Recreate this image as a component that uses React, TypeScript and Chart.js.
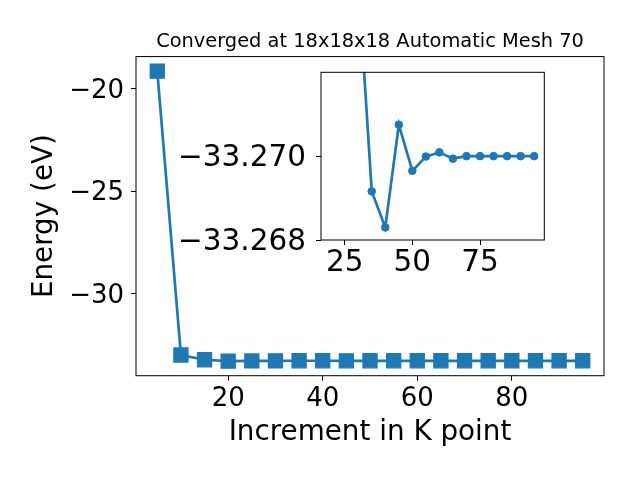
import React, { useEffect, useRef } from "react";
import { Chart, registerables } from "chart.js";

Chart.register(...registerables);

// ---- data ----
const kPoints = [5, 10, 15, 20, 25, 30, 35, 40, 45, 50, 55, 60, 65, 70, 75, 80, 85, 90, 95];
const energies = [
  -19.14, -32.99, -33.22, -33.29, -33.278, -33.2742, -33.26916, -33.2683, -33.27075,
  -33.26965, -33.26999, -33.27009, -33.26994, -33.27, -33.27, -33.27, -33.27, -33.27, -33.27,
];
const mainXTicks = [20, 40, 60, 80];
const mainYTicks = [-30, -25, -20];
const insetStartIndex = 3; // inset shows k >= 20
const insetXTicks = [25, 50, 75];
const insetYTicks = [-33.27, -33.268];
const insetYLimits = [-33.272, -33.268];

const titleText = "Converged at 18x18x18 Automatic Mesh 70";
const xLabel = "Increment in K point";
const yLabel = "Energy (eV)";

const BLUE = "#1f77b4";
const FONT = "'DejaVu Sans', sans-serif";

const fmt = (v: number, d: number) => (v < 0 ? "\u2212" : "") + Math.abs(v).toFixed(d);

const framePlugin = (fillWhite: boolean) => ({
  id: "frame" + (fillWhite ? "W" : ""),
  beforeDraw(chart: any) {
    if (!fillWhite) return;
    const { left, top, right, bottom } = chart.chartArea;
    const ctx = chart.ctx;
    ctx.save();
    ctx.fillStyle = "#fff";
    ctx.fillRect(left, top, right - left, bottom - top);
    ctx.restore();
  },
  afterDraw(chart: any) {
    const { left, top, right, bottom } = chart.chartArea;
    const ctx = chart.ctx;
    ctx.save();
    ctx.strokeStyle = "#000";
    ctx.lineWidth = 1;
    ctx.strokeRect(left, top, right - left, bottom - top);
    ctx.restore();
  },
});

export default function App() {
  const mainRef = useRef<HTMLCanvasElement>(null);
  const insetRef = useRef<HTMLCanvasElement>(null);

  useEffect(() => {
    const dMin = Math.min(...energies);
    const dMax = Math.max(...energies);
    const yMargin = (dMax - dMin) * 0.05;
    const xMargin = (kPoints[kPoints.length - 1] - kPoints[0]) * 0.05;

    const main = new Chart(mainRef.current!, {
      type: "line",
      data: {
        datasets: [
          {
            data: kPoints.map((k, i) => ({ x: k, y: energies[i] })),
            borderColor: BLUE,
            backgroundColor: BLUE,
            borderWidth: 2.7,
            pointStyle: "rect",
            pointRadius: 10,
            pointBorderWidth: 1.2,
            pointBackgroundColor: BLUE,
            pointBorderColor: BLUE,
            tension: 0,
          },
        ],
      },
      options: {
        animation: false,
        responsive: false,
        devicePixelRatio: 1,
        layout: { padding: { left: 0, right: 36, top: 0, bottom: 0 } },
        plugins: {
          legend: { display: false },
          tooltip: { enabled: false },
          title: {
            display: true,
            text: titleText,
            fullSize: false,
            color: "#000",
            font: { family: FONT, size: 19.4, weight: "normal" },
            padding: { top: 30, bottom: 3.3 },
          },
        },
        scales: {
          x: {
            type: "linear",
            min: kPoints[0] - xMargin,
            max: kPoints[kPoints.length - 1] + xMargin,
            afterBuildTicks: (s: any) => {
              s.ticks = mainXTicks.map((v) => ({ value: v }));
            },
            afterFit: (s: any) => {
              s.height = 104.3;
            },
            grid: { display: true, drawOnChartArea: false, drawTicks: true, tickLength: 5, color: "#000", tickColor: "#000" },
            border: { display: false },
            ticks: {
              color: "#000",
              font: { family: FONT, size: 26 },
              padding: 3,
              maxRotation: 0,
              autoSkip: false,
              callback: (v: any) => fmt(Number(v), 0),
            },
            title: {
              display: true,
              text: xLabel,
              color: "#000",
              font: { family: FONT, size: 27.8 },
              padding: { top: 0, bottom: 31 },
            },
          },
          y: {
            type: "linear",
            min: dMin - yMargin,
            max: dMax + yMargin,
            afterBuildTicks: (s: any) => {
              s.ticks = mainYTicks.map((v) => ({ value: v }));
            },
            afterFit: (s: any) => {
              s.width = 136;
            },
            grid: { display: true, drawOnChartArea: false, drawTicks: true, tickLength: 5, color: "#000", tickColor: "#000" },
            border: { display: false },
            ticks: {
              color: "#000",
              font: { family: FONT, size: 26 },
              padding: 7,
              labelOffset: 2.5,
              autoSkip: false,
              callback: (v: any) => fmt(Number(v), 0),
            },
            title: {
              display: true,
              text: yLabel,
              color: "#000",
              font: { family: FONT, size: 27.8 },
              padding: { top: 28, bottom: 0 },
            },
          },
        },
      },
      plugins: [framePlugin(false)],
    } as any);

    const insetK = kPoints.slice(insetStartIndex);
    const insetE = energies.slice(insetStartIndex);
    const ixMargin = (insetK[insetK.length - 1] - insetK[0]) * 0.05;

    const inset = new Chart(insetRef.current!, {
      type: "line",
      data: {
        datasets: [
          {
            data: insetK.map((k, i) => ({ x: k, y: insetE[i] })),
            borderColor: BLUE,
            backgroundColor: BLUE,
            borderWidth: 2.7,
            pointStyle: "circle",
            pointRadius: 3.8,
            pointBorderWidth: 1,
            pointBackgroundColor: BLUE,
            pointBorderColor: BLUE,
            tension: 0,
            clip: 0,
          },
        ],
      },
      options: {
        animation: false,
        responsive: false,
        devicePixelRatio: 1,
        layout: { padding: { left: 0, right: 95.7, top: 72.3, bottom: 0 } },
        plugins: {
          legend: { display: false },
          tooltip: { enabled: false },
          title: { display: false },
        },
        scales: {
          x: {
            type: "linear",
            min: insetK[0] - ixMargin,
            max: insetK[insetK.length - 1] + ixMargin,
            afterBuildTicks: (s: any) => {
              s.ticks = insetXTicks.map((v) => ({ value: v }));
            },
            afterFit: (s: any) => {
              s.height = 240;
            },
            grid: { display: true, drawOnChartArea: false, drawTicks: true, tickLength: 5, color: "#000", tickColor: "#000" },
            border: { display: false },
            ticks: {
              color: "#000",
              font: { family: FONT, size: 29.5 },
              padding: 1,
              maxRotation: 0,
              autoSkip: false,
              callback: (v: any) => fmt(Number(v), 0),
            },
          },
          y: {
            type: "linear",
            reverse: true,
            min: insetYLimits[0],
            max: insetYLimits[1],
            afterBuildTicks: (s: any) => {
              s.ticks = insetYTicks.map((v) => ({ value: v }));
            },
            afterFit: (s: any) => {
              s.width = 321;
            },
            grid: { display: true, drawOnChartArea: false, drawTicks: true, tickLength: 5, color: "#000", tickColor: "#000" },
            border: { display: false },
            ticks: {
              color: "#000",
              font: { family: FONT, size: 29.5 },
              padding: 10,
              labelOffset: 2,
              autoSkip: false,
              callback: (v: any) => fmt(Number(v), 3),
            },
          },
        },
      },
      plugins: [framePlugin(true)],
    } as any);

    return () => {
      main.destroy();
      inset.destroy();
    };
  }, []);

  return (
    <div style={{ position: "absolute", left: 0, top: 0, width: 640, height: 480, background: "#fff" }}>
      <canvas ref={mainRef} width={640} height={480} style={{ position: "absolute", left: 0, top: 0, width: 640, height: 480 }} />
      <canvas ref={insetRef} width={640} height={480} style={{ position: "absolute", left: 0, top: 0, width: 640, height: 480 }} />
    </div>
  );
}
